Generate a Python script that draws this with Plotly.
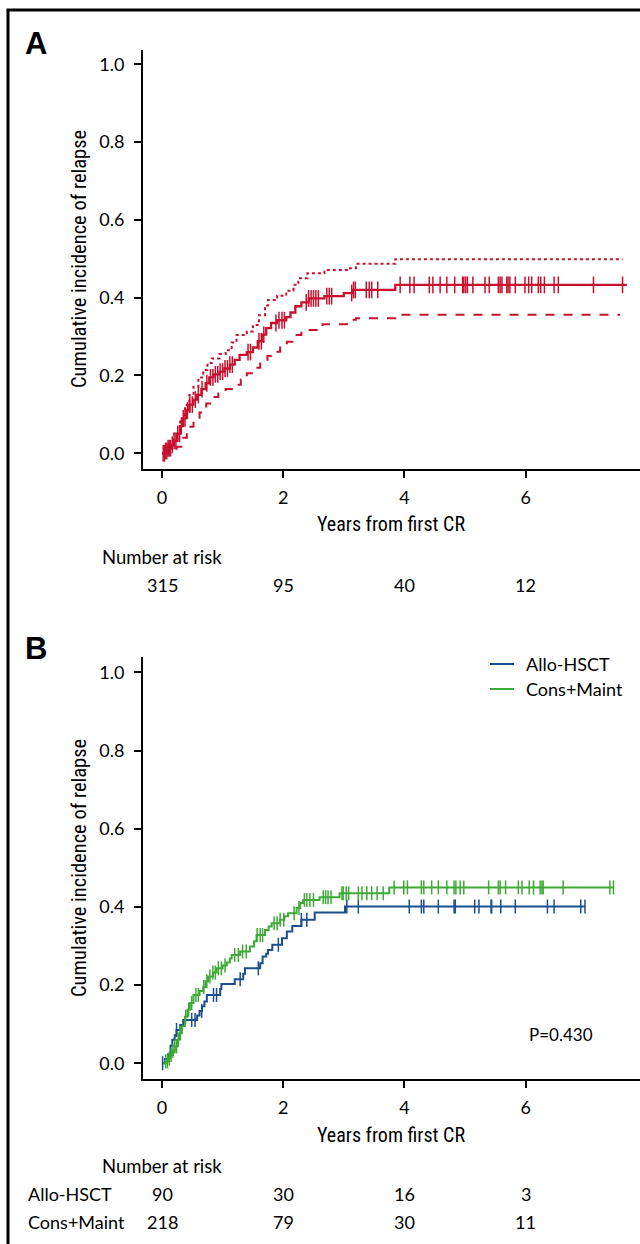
import numpy as np
import plotly.graph_objects as go

W, H = 640, 1244
RED = "#C8102E"
BLUE = "#1A4E8C"
GREEN = "#3DAA35"
FONT = "Lato, 'Noto Sans', sans-serif"
COND = "'Liberation Sans Narrow', 'Roboto Condensed', 'DejaVu Sans Condensed', Lato, sans-serif"

# ---------------- Panel A data ----------------
a_t = [0, 0.05, 0.1, 0.15, 0.2, 0.25, 0.3, 0.35, 0.4, 0.45, 0.52, 0.58, 0.65, 0.72, 0.78,
       0.85, 0.95, 1.03, 1.12, 1.2, 1.28, 1.4, 1.5, 1.58, 1.65, 1.72, 1.8, 1.9, 2.05, 2.12,
       2.2, 2.3, 2.42, 2.68, 3.0, 3.15, 3.85, 7.67]
a_v = [0, 0.006, 0.013, 0.022, 0.032, 0.05, 0.07, 0.09, 0.11, 0.125, 0.138, 0.15, 0.165, 0.18, 0.195,
       0.203, 0.21, 0.218, 0.228, 0.24, 0.253, 0.26, 0.272, 0.288, 0.305, 0.322, 0.335, 0.342, 0.35, 0.362,
       0.378, 0.388, 0.398, 0.404, 0.412, 0.42, 0.433, 0.433]
a_up_t = [0, 0.1, 0.2, 0.3, 0.38, 0.45, 0.52, 0.6, 0.68, 0.75, 0.82, 0.95, 1.05, 1.15, 1.23,
          1.4, 1.5, 1.6, 1.7, 1.75, 1.9, 2.05, 2.17, 2.25, 2.4, 2.68, 3.05, 3.2, 3.85, 7.6]
a_up_v = [0, 0.02, 0.05, 0.09, 0.124, 0.15, 0.171, 0.195, 0.214, 0.232, 0.244, 0.255, 0.265, 0.285, 0.304,
          0.313, 0.33, 0.355, 0.38, 0.394, 0.405, 0.418, 0.433, 0.45, 0.463, 0.471, 0.476, 0.487, 0.499, 0.499]
a_lo_t = [0, 0.15, 0.24, 0.32, 0.41, 0.52, 0.62, 0.73, 0.85, 0.93, 1.05, 1.18, 1.3, 1.4, 1.5,
          1.62, 1.74, 1.84, 1.95, 2.06, 2.22, 2.3, 2.65, 3.05, 3.2, 3.85, 7.56]
a_lo_v = [0, 0.005, 0.017, 0.04, 0.068, 0.081, 0.105, 0.128, 0.145, 0.154, 0.165, 0.176, 0.19, 0.206, 0.22,
          0.235, 0.25, 0.261, 0.275, 0.287, 0.304, 0.317, 0.332, 0.343, 0.347, 0.356, 0.356]
a_cens = [0.02, 0.04, 0.06, 0.08, 0.1, 0.12, 0.14, 0.17, 0.2, 0.23, 0.26, 0.29, 0.32, 0.35, 0.38,
          0.42, 0.46, 0.5, 0.55, 0.6, 0.66, 0.74, 0.8, 0.84, 0.88, 0.92, 0.96, 1.0, 1.04, 1.08,
          1.12, 1.16, 1.42, 1.46, 1.6, 1.64, 1.68, 1.88, 1.93, 1.98, 2.02, 2.38, 2.42, 2.46, 2.5,
          2.54, 2.58, 2.72, 2.76, 2.8, 3.13, 3.16, 3.19, 3.37, 3.42, 3.46, 3.56,
          3.93, 4.09, 4.16, 4.41, 4.47, 4.59, 4.70, 4.83, 4.96, 4.98, 5.01, 5.04, 5.13, 5.33,
          5.40, 5.55, 5.58, 5.61, 5.69, 5.71, 5.74, 5.83, 5.99, 6.05, 6.10, 6.21, 6.25, 6.31,
          6.47, 6.54, 7.12, 7.60]
a_risk = [315, 95, 40, 12]

# ---------------- Panel B data ----------------
allo_t = [0, 0.05, 0.1, 0.14, 0.17, 0.21, 0.24, 0.3, 0.35, 0.58, 0.62, 0.66, 0.7, 0.74, 0.96,
          0.98, 1.2, 1.34, 1.37, 1.62, 1.66, 1.72, 1.75, 1.82, 1.98, 2.06, 2.15, 2.3, 2.52, 3.02, 6.98]
allo_v = [0, 0.011, 0.023, 0.045, 0.06, 0.072, 0.085, 0.098, 0.111, 0.122, 0.134, 0.146, 0.158, 0.175, 0.19,
          0.203, 0.215, 0.229, 0.243, 0.256, 0.273, 0.28, 0.29, 0.303, 0.32, 0.337, 0.351, 0.367, 0.386, 0.401, 0.401]
allo_cens = [0.01, 0.24, 0.49, 0.545, 0.655, 0.85, 0.90, 1.29, 1.59, 1.92, 2.30, 2.39,
             3.05, 3.24, 4.08, 4.28, 4.32, 4.56, 4.82, 4.84, 5.16, 5.23, 5.43, 5.44, 5.59, 5.83,
             6.36, 6.47, 6.91, 6.98]
cons_t = [0, 0.06, 0.1, 0.14, 0.18, 0.21, 0.25, 0.29, 0.33, 0.38, 0.42, 0.46, 0.52, 0.62, 0.68,
          0.72, 0.76, 0.84, 0.9, 1.0, 1.07, 1.12, 1.15, 1.29, 1.45, 1.52, 1.56, 1.7, 1.76, 1.81,
          1.95, 2.02, 2.08, 2.22, 2.28, 2.33, 2.6, 2.93, 3.75, 7.45]
cons_v = [0, 0.005, 0.012, 0.021, 0.032, 0.043, 0.06, 0.077, 0.095, 0.119, 0.137, 0.154, 0.175, 0.185, 0.195,
          0.21, 0.222, 0.232, 0.243, 0.25, 0.258, 0.268, 0.277, 0.286, 0.299, 0.312, 0.328, 0.341, 0.35, 0.358,
          0.367, 0.376, 0.384, 0.397, 0.41, 0.418, 0.425, 0.435, 0.45, 0.45]
cons_cens = [0.06, 0.09, 0.12, 0.15, 0.18, 0.21, 0.24, 0.27, 0.3, 0.39, 0.44, 0.49, 0.56, 0.6,
             0.69, 0.74, 0.79, 0.84, 0.88, 0.93, 0.98, 1.04, 1.2, 1.26, 1.33, 1.39, 1.57, 1.62, 1.66,
             1.85, 1.9, 1.95, 2.01, 2.18, 2.26, 2.35, 2.39, 2.44, 2.5, 2.66, 2.7, 2.74, 2.79,
             2.97, 2.99, 3.04, 3.08, 3.24, 3.30, 3.38, 3.46, 3.55, 3.65,
             3.83, 3.99, 4.05, 4.28, 4.32, 4.45, 4.56, 4.70, 4.82, 4.85, 4.92, 4.98, 5.39, 5.55,
             5.58, 5.67, 5.88, 5.94, 6.06, 6.13, 6.24, 6.27, 6.29, 6.62, 7.39, 7.45]
allo_risk = [90, 30, 16, 3]
cons_risk = [218, 79, 30, 11]
risk_times = [0, 2, 4, 6]
group_names = ["Allo-HSCT", "Cons+Maint"]
p_text = "P=0.430"


def step_at(ts, vs, q):
    ts = np.asarray(ts)
    vs = np.asarray(vs)
    idx = np.searchsorted(ts, np.asarray(q), side="right") - 1
    return vs[np.clip(idx, 0, len(vs) - 1)]


def py(px):  # pixel y -> paper fraction
    return 1 - px / H


def pxx(px):
    return px / W


fig = go.Figure()

# Panel A curves
fig.add_trace(go.Scatter(x=a_up_t, y=a_up_v, mode="lines", line=dict(color=RED, width=2, dash="dot", shape="hv"),
                         showlegend=False, xaxis="x", yaxis="y"))
fig.add_trace(go.Scatter(x=a_lo_t, y=a_lo_v, mode="lines", line=dict(color=RED, width=2, dash="dash", shape="hv"),
                         showlegend=False, xaxis="x", yaxis="y"))
fig.add_trace(go.Scatter(x=a_t, y=a_v, mode="lines", line=dict(color=RED, width=2.3, shape="hv"),
                         showlegend=False, xaxis="x", yaxis="y"))
fig.add_trace(go.Scatter(x=a_cens, y=step_at(a_t, a_v, a_cens), mode="markers",
                         marker=dict(symbol="line-ns", size=12, line=dict(color=RED, width=1.5)),
                         showlegend=False, xaxis="x", yaxis="y"))

# Panel B curves
fig.add_trace(go.Scatter(x=allo_t, y=allo_v, mode="lines", name=group_names[0], showlegend=False,
                         line=dict(color=BLUE, width=2, shape="hv"), xaxis="x2", yaxis="y2"))
fig.add_trace(go.Scatter(x=cons_t, y=cons_v, mode="lines", name=group_names[1], showlegend=False,
                         line=dict(color=GREEN, width=2, shape="hv"), xaxis="x2", yaxis="y2"))
fig.add_trace(go.Scatter(x=allo_cens, y=step_at(allo_t, allo_v, allo_cens), mode="markers",
                         marker=dict(symbol="line-ns", size=10, line=dict(color=BLUE, width=1.5)),
                         showlegend=False, xaxis="x2", yaxis="y2"))
fig.add_trace(go.Scatter(x=cons_cens, y=step_at(cons_t, cons_v, cons_cens), mode="markers",
                         marker=dict(symbol="line-ns", size=10, line=dict(color=GREEN, width=1.5)),
                         showlegend=False, xaxis="x2", yaxis="y2"))

xr = [-(162 - 143) / 60.6, (640 - 162) / 60.6]
common_x = dict(range=xr, domain=[pxx(143), 1], showline=True, linecolor="black", linewidth=2,
                ticks="outside", ticklen=7, tickwidth=2, tickcolor="black",
                tickvals=risk_times, showgrid=False, zeroline=False,
                tickfont=dict(family=FONT, size=18, color="black"), ticklabelstandoff=4)
common_y = dict(showline=True, linecolor="black", linewidth=2, ticks="outside", ticklen=7, tickwidth=2,
                tickcolor="black", tickvals=[0, 0.2, 0.4, 0.6, 0.8, 1.0], tickformat=".1f",
                showgrid=False, zeroline=False, tickfont=dict(family=FONT, size=18, color="black"),
                ticklabelstandoff=6)

fig.update_layout(
    width=W, height=H, margin=dict(l=0, r=0, t=0, b=0),
    paper_bgcolor="white", plot_bgcolor="white", showlegend=False,
    xaxis=dict(anchor="y", **common_x),
    yaxis=dict(anchor="x", domain=[py(469), py(50)], range=[-0.0404, 1.0368], **common_y),
    xaxis2=dict(anchor="y2", **common_x),
    yaxis2=dict(anchor="x2", domain=[py(1079), py(657)], range=[-0.0402, 1.0394], **common_y),
)

ann = []
def txt(x, y, s, size=18, family=FONT, xanchor="center", xref="paper", angle=0):
    ann.append(dict(x=x, y=y, xref=xref, yref="paper", text=s, showarrow=False, xanchor=xanchor,
                    yanchor="middle", textangle=angle, font=dict(family=family, size=size, color="black")))

BOLD = "'Liberation Sans', Arial, sans-serif"
# Panel A texts
txt(pxx(23), py(44), "<b>A</b>", size=31, family=BOLD, xanchor="left")
txt(pxx(79), py(259), "Cumulative incidence of relapse", size=20.5, family=COND, angle=-90)
txt(pxx(391), py(524), "Years from first CR", size=20, family=COND)
txt(pxx(100), py(557), "Number at risk", size=18.5, xanchor="left")
for t, n in zip(risk_times, a_risk):
    txt(t, py(585), str(n), xref="x")

# Panel B texts
txt(pxx(23), py(648), "<b>B</b>", size=31, family=BOLD, xanchor="left")
txt(pxx(79), py(868), "Cumulative incidence of relapse", size=20.5, family=COND, angle=-90)
txt(pxx(391), py(1135), "Years from first CR", size=20, family=COND)
txt(pxx(100), py(1166), "Number at risk", size=18.5, xanchor="left")
txt(pxx(26), py(1194), group_names[0], size=18, xanchor="left")
txt(pxx(26), py(1222), group_names[1], size=18, xanchor="left")
for t, n in zip(risk_times, allo_risk):
    txt(t, py(1194), str(n), xref="x")
for t, n in zip(risk_times, cons_risk):
    txt(t, py(1222), str(n), xref="x")
ann.append(dict(x=595 / W, y=py(1034), xref="paper", yref="paper", text=p_text, showarrow=False,
                xanchor="right", yanchor="middle", font=dict(family=FONT, size=17, color="black")))

# legend (panel B): line samples + labels
shapes = []
for i, (name, col) in enumerate(zip(group_names, [BLUE, GREEN])):
    yy = 664 + 25 * i
    shapes.append(dict(type="line", xref="paper", yref="paper", x0=pxx(490), x1=pxx(514),
                       y0=py(yy), y1=py(yy), line=dict(color=col, width=2)))
    txt(pxx(524), py(yy), name, size=18, xanchor="left")

fig.update_layout(annotations=ann)

# outer frame (left and top borders)
shapes += [
    dict(type="line", xref="paper", yref="paper", x0=pxx(8), x1=pxx(8), y0=0, y1=py(10),
         line=dict(color="black", width=3)),
    dict(type="line", xref="paper", yref="paper", x0=pxx(6.5), x1=1, y0=py(10), y1=py(10),
         line=dict(color="black", width=3)),
]
fig.update_layout(shapes=shapes)

fig.write_html("out.html", config={"displayModeBar": False},
               post_script="document.body.style.margin='0';")
